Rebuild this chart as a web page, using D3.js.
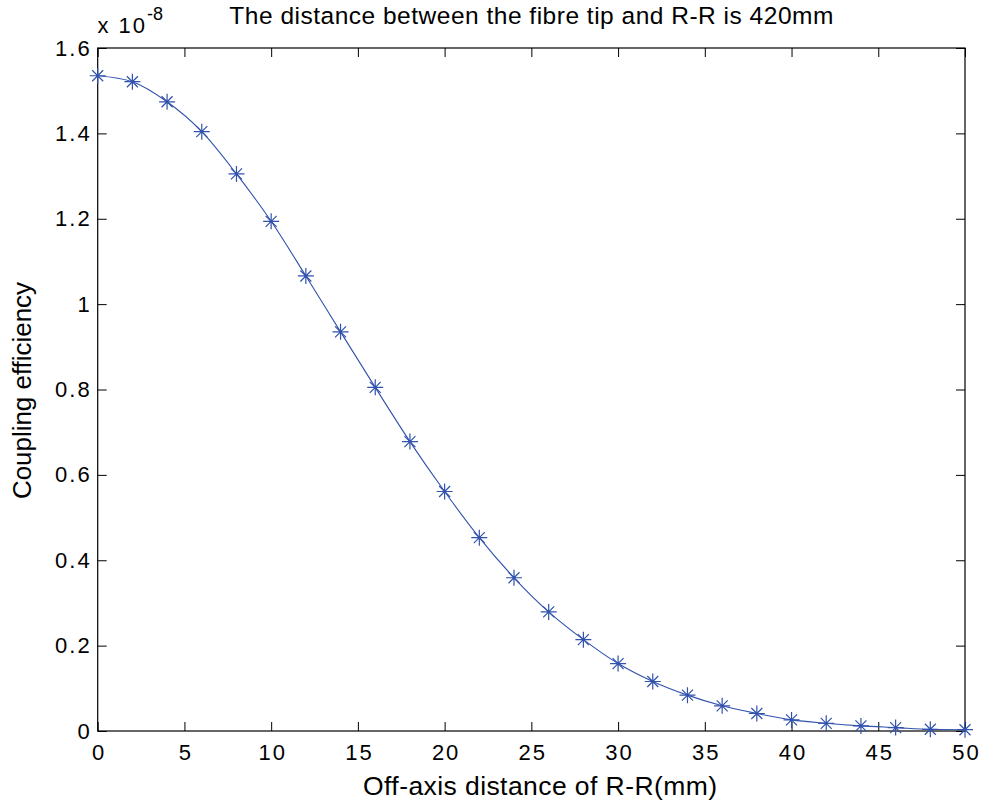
<!DOCTYPE html>
<html><head><meta charset="utf-8">
<script src="https://cdn.jsdelivr.net/npm/d3@7"></script>
<style>body{margin:0;background:#fff}svg{display:block}text{font-family:"Liberation Sans",Arial,sans-serif;fill:#000}</style>
</head><body>
<script>
const xValues = [0,2,4,6,8,10,12,14,16,18,20,22,24,26,28,30,32,34,36,38,40,42,44,46,48,50];
const yValues = [1.535,1.521,1.474,1.404,1.305,1.194,1.066,0.935,0.805,0.678,0.561,0.453,0.359,0.279,0.214,0.158,0.116,0.084,0.059,0.041,0.026,0.018,0.012,0.008,0.004,0.003];
const xTicks = [0,5,10,15,20,25,30,35,40,45,50];
const yTicks = [0,0.2,0.4,0.6,0.8,1,1.2,1.4,1.6];
const titleText = "The distance between the fibre tip and R-R is 420mm";
const xLabel = "Off-axis distance of R-R(mm)";
const yLabel = "Coupling efficiency";

const W = 984, H = 805;
const L = 97.7, R = 965, T = 48, B = 731;
const blue = "#3152ad";

const svg = d3.select("body").append("svg").attr("width", W).attr("height", H);
const x = d3.scaleLinear().domain([0,50]).range([L,R]);
const y = d3.scaleLinear().domain([0,1.6]).range([B,T]);

const fmt = d => d === 0 ? "0" : (d === 1 ? "1" : d3.format(".1f")(d));

// Box
svg.append("rect").attr("x",L).attr("y",T).attr("width",R-L).attr("height",B-T)
  .attr("fill","none").attr("stroke","#000").attr("stroke-width",1.2);

const tl = 9;
const gx = svg.append("g").attr("transform",`translate(0,${B})`)
  .call(d3.axisBottom(x).tickValues(xTicks).tickSize(-tl).tickPadding(13).tickFormat(d3.format("d")));
const gxt = svg.append("g").attr("transform",`translate(0,${T})`)
  .call(d3.axisTop(x).tickValues(xTicks).tickSize(-tl).tickFormat(""));
const gy = svg.append("g").attr("transform",`translate(${L},0)`)
  .call(d3.axisLeft(y).tickValues(yTicks).tickSize(-tl).tickPadding(6).tickFormat(fmt));
const gyr = svg.append("g").attr("transform",`translate(${R},0)`)
  .call(d3.axisRight(y).tickValues(yTicks).tickSize(-tl).tickFormat(""));
[gx,gxt,gy,gyr].forEach(g=>{
  g.select(".domain").remove();
  g.selectAll(".tick line").attr("stroke","#000").attr("stroke-width",1);
  g.selectAll("text").attr("font-size",22).attr("letter-spacing","2px")
    .attr("font-family","Liberation Sans, Arial, sans-serif").attr("fill","#000");
});
gx.selectAll("text").attr("dx","1px");

// line
svg.append("path").datum(xValues.map((d,i)=>[d,yValues[i]]))
  .attr("fill","none").attr("stroke",blue).attr("stroke-width",1.1)
  .attr("d", d3.line().x(d=>x(d[0])).y(d=>y(d[1])).curve(d3.curveMonotoneX));

// asterisk markers
const r = 8, rd = 5.5;
const stars = svg.append("g").attr("stroke",blue).attr("stroke-width",1.2);
xValues.forEach((d,i)=>{
  const cx = x(d), cy = y(yValues[i]);
  stars.append("path").attr("d",
    `M${cx-r},${cy}H${cx+r}M${cx},${cy-r}V${cy+r}M${cx-rd},${cy-rd}L${cx+rd},${cy+rd}M${cx-rd},${cy+rd}L${cx+rd},${cy-rd}`);
});

// texts
svg.append("text").attr("x",(L+R)/2).attr("y",24).attr("text-anchor","middle").attr("font-size",24.5)
  .attr("textLength",604).attr("lengthAdjust","spacing").text(titleText);
svg.append("text").attr("x",540).attr("y",795).attr("text-anchor","middle").attr("font-size",26.5)
  .attr("textLength",354).attr("lengthAdjust","spacing").text(xLabel);
svg.append("text").attr("transform",`translate(31,390.5) rotate(-90)`).attr("text-anchor","middle").attr("font-size",26.5)
  .attr("textLength",217).attr("lengthAdjust","spacingAndGlyphs").text(yLabel);
const mult = svg.append("text").attr("x",97.5).attr("y",32.5).attr("font-size",22).attr("letter-spacing","2px");
mult.append("tspan").text("x 10");
mult.append("tspan").attr("dy",-12.5).attr("font-size",18).attr("letter-spacing","0px").text("-8");
</script>
</body></html>
